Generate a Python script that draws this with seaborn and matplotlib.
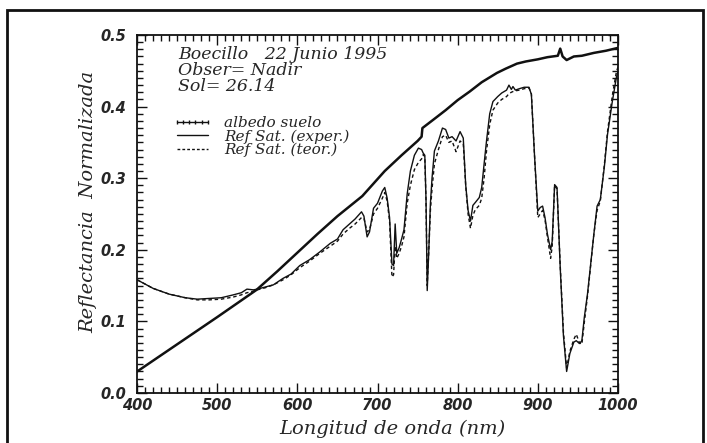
import seaborn as sns
import pandas as pd
import matplotlib.pyplot as plt
import matplotlib.ticker as ticker
from matplotlib.lines import Line2D
from matplotlib.patches import Rectangle

# soil albedo (thick line)
alb_wl = [400, 450, 500, 549, 575, 600, 625, 650, 681, 709, 730, 750, 755, 756,
          770, 785, 800, 815, 830, 849, 860, 874, 885, 900, 912, 925, 928, 931,
          936, 945, 955, 970, 985, 1000]
alb = [0.030, 0.068, 0.106, 0.144, 0.170, 0.196, 0.222, 0.247, 0.275, 0.310,
       0.332, 0.352, 0.358, 0.370, 0.382, 0.395, 0.409, 0.421, 0.434, 0.447,
       0.453, 0.460, 0.463, 0.466, 0.469, 0.471, 0.481, 0.470, 0.465, 0.470,
       0.471, 0.475, 0.478, 0.482]

# satellite reflectance, experimental and theoretical
wl = [400, 420, 440, 460, 475, 490, 505, 520, 530, 537, 545, 550, 560, 570, 582,
      592, 603, 615, 628, 641, 650, 657, 665, 672, 680, 683, 687, 690, 695, 700,
      706, 709, 712, 715, 718, 720, 722, 724, 727, 730, 733, 737, 741, 746, 751,
      755, 757, 759, 760.5, 762, 764, 766, 768, 771, 776, 781, 785, 789, 793, 798,
      803, 807, 810, 813, 816, 819, 822, 827, 830, 833, 836, 840, 844, 850, 855,
      861, 864, 867, 869, 872, 877, 883, 889, 892, 896, 900, 903, 906, 909, 912,
      916, 918, 921, 924, 928, 932, 936, 940, 945, 948, 952, 955, 958, 962, 966,
      970, 974, 978, 983, 987, 993, 998, 1000]
exper = [0.158, 0.146, 0.138, 0.133, 0.131, 0.132, 0.133, 0.137, 0.140, 0.145,
         0.144, 0.145, 0.148, 0.151, 0.160, 0.166, 0.178, 0.186, 0.197, 0.209,
         0.215, 0.228, 0.236, 0.243, 0.253, 0.247, 0.218, 0.225, 0.258, 0.265,
         0.282, 0.287, 0.272, 0.245, 0.180, 0.178, 0.236, 0.195, 0.203, 0.215,
         0.228, 0.278, 0.310, 0.332, 0.342, 0.340, 0.335, 0.332, 0.270, 0.143,
         0.200, 0.265, 0.300, 0.338, 0.352, 0.370, 0.368, 0.356, 0.358, 0.352,
         0.365, 0.356, 0.291, 0.255, 0.240, 0.262, 0.266, 0.273, 0.287, 0.320,
         0.352, 0.390, 0.407, 0.414, 0.419, 0.423, 0.430, 0.424, 0.428, 0.423,
         0.425, 0.427, 0.427, 0.417, 0.330, 0.254, 0.259, 0.261, 0.245, 0.222,
         0.200, 0.212, 0.291, 0.287, 0.175, 0.080, 0.030, 0.055, 0.071, 0.073,
         0.069, 0.073, 0.105, 0.138, 0.180, 0.222, 0.261, 0.270, 0.315, 0.361,
         0.407, 0.440, 0.449]
teor = [0.158, 0.146, 0.138, 0.133, 0.130, 0.130, 0.131, 0.134, 0.137, 0.140,
        0.142, 0.144, 0.147, 0.151, 0.158, 0.165, 0.175, 0.184, 0.195, 0.205,
        0.212, 0.222, 0.230, 0.236, 0.245, 0.244, 0.225, 0.228, 0.250, 0.258,
        0.272, 0.280, 0.268, 0.240, 0.162, 0.165, 0.205, 0.188, 0.195, 0.205,
        0.218, 0.265, 0.290, 0.312, 0.322, 0.327, 0.333, 0.330, 0.268, 0.150,
        0.200, 0.255, 0.285, 0.320, 0.340, 0.358, 0.360, 0.350, 0.352, 0.337,
        0.352, 0.348, 0.290, 0.250, 0.230, 0.248, 0.256, 0.262, 0.272, 0.300,
        0.338, 0.375, 0.395, 0.405, 0.410, 0.414, 0.418, 0.420, 0.421, 0.422,
        0.423, 0.425, 0.426, 0.418, 0.330, 0.245, 0.250, 0.255, 0.242, 0.218,
        0.188, 0.205, 0.290, 0.285, 0.178, 0.085, 0.035, 0.058, 0.075, 0.082,
        0.070, 0.068, 0.098, 0.135, 0.178, 0.222, 0.255, 0.268, 0.318, 0.365,
        0.415, 0.448, 0.455]

x_ticks = [400, 500, 600, 700, 800, 900, 1000]
y_ticks = [0.0, 0.1, 0.2, 0.3, 0.4, 0.5]

sns.set_style("ticks")
plt.rcParams["font.family"] = ["DejaVu Serif"]

fig = plt.figure(figsize=(7.07, 4.43), dpi=100)
ax = fig.add_axes([0.194, 0.113, 0.680, 0.808])

df_alb = pd.DataFrame({"wl": alb_wl, "val": alb})
df_sat = pd.DataFrame({"wl": wl, "exper": exper, "teor": teor})

sns.lineplot(data=df_alb, x="wl", y="val", ax=ax, color="#111111", lw=1.8)
sns.lineplot(data=df_sat, x="wl", y="exper", ax=ax, color="#111111", lw=1.0)
sns.lineplot(data=df_sat, x="wl", y="teor", ax=ax, color="#111111", lw=1.0,
             linestyle=(0, (2.5, 2)))

ax.set_xlim(400, 1000)
ax.set_ylim(0, 0.5)
ax.set_xticks(x_ticks)
ax.set_yticks(y_ticks)
ax.xaxis.set_minor_locator(ticker.MultipleLocator(10))
ax.yaxis.set_minor_locator(ticker.MultipleLocator(0.01))
ax.set_yticklabels([f"{v:.1f}" for v in y_ticks])
ax.tick_params(which="both", direction="in", top=True, right=True,
               color="#111111", width=1.0)
ax.tick_params(which="major", length=7)
ax.tick_params(which="minor", length=4)
ax.tick_params(axis="x", pad=4)
ax.tick_params(axis="y", pad=8)
for lab in ax.get_xticklabels() + ax.get_yticklabels():
    lab.set_family("DejaVu Sans")
    lab.set_fontweight("bold")
    lab.set_fontstyle("italic")
    lab.set_fontsize(10.5)
for s in ax.spines.values():
    s.set_linewidth(1.3)
    s.set_color("#111111")

ax.set_xlabel("Longitud de onda (nm)", fontsize=14, fontstyle="italic")
ax.set_ylabel("Reflectancia  Normalizada", fontsize=14, fontstyle="italic")
ax.xaxis.set_label_coords(0.53, -0.075)
ax.yaxis.set_label_coords(-0.083, 0.534)

ax.text(0.085, 0.968, "Boecillo   22 Junio 1995\nObser= Nadir\nSol= 26.14",
        transform=ax.transAxes, fontsize=12.5, fontstyle="italic",
        va="top", ha="left", linespacing=0.92)

handles = [
    Line2D([], [], color="#111111", lw=1.0, marker="|", markersize=3),
    Line2D([], [], color="#111111", lw=1.0),
    Line2D([], [], color="#111111", lw=1.0, linestyle=(0, (2, 1.5))),
]
labels = ["albedo suelo", "Ref Sat. (exper.)", "Ref Sat. (teor.)"]
ax.legend(handles, labels, loc="upper left", bbox_to_anchor=(0.045, 0.812),
          frameon=False, handlelength=2.6, handletextpad=0.8,
          labelspacing=-0.05, numpoints=6,
          prop={"family": "DejaVu Serif", "style": "italic", "size": 11})

fig.patches.append(Rectangle((0.010, -0.05), 0.985, 1.027, transform=fig.transFigure,
                             fill=False, lw=2.0, edgecolor="#111111"))

fig.savefig("out.png", dpi=100)
